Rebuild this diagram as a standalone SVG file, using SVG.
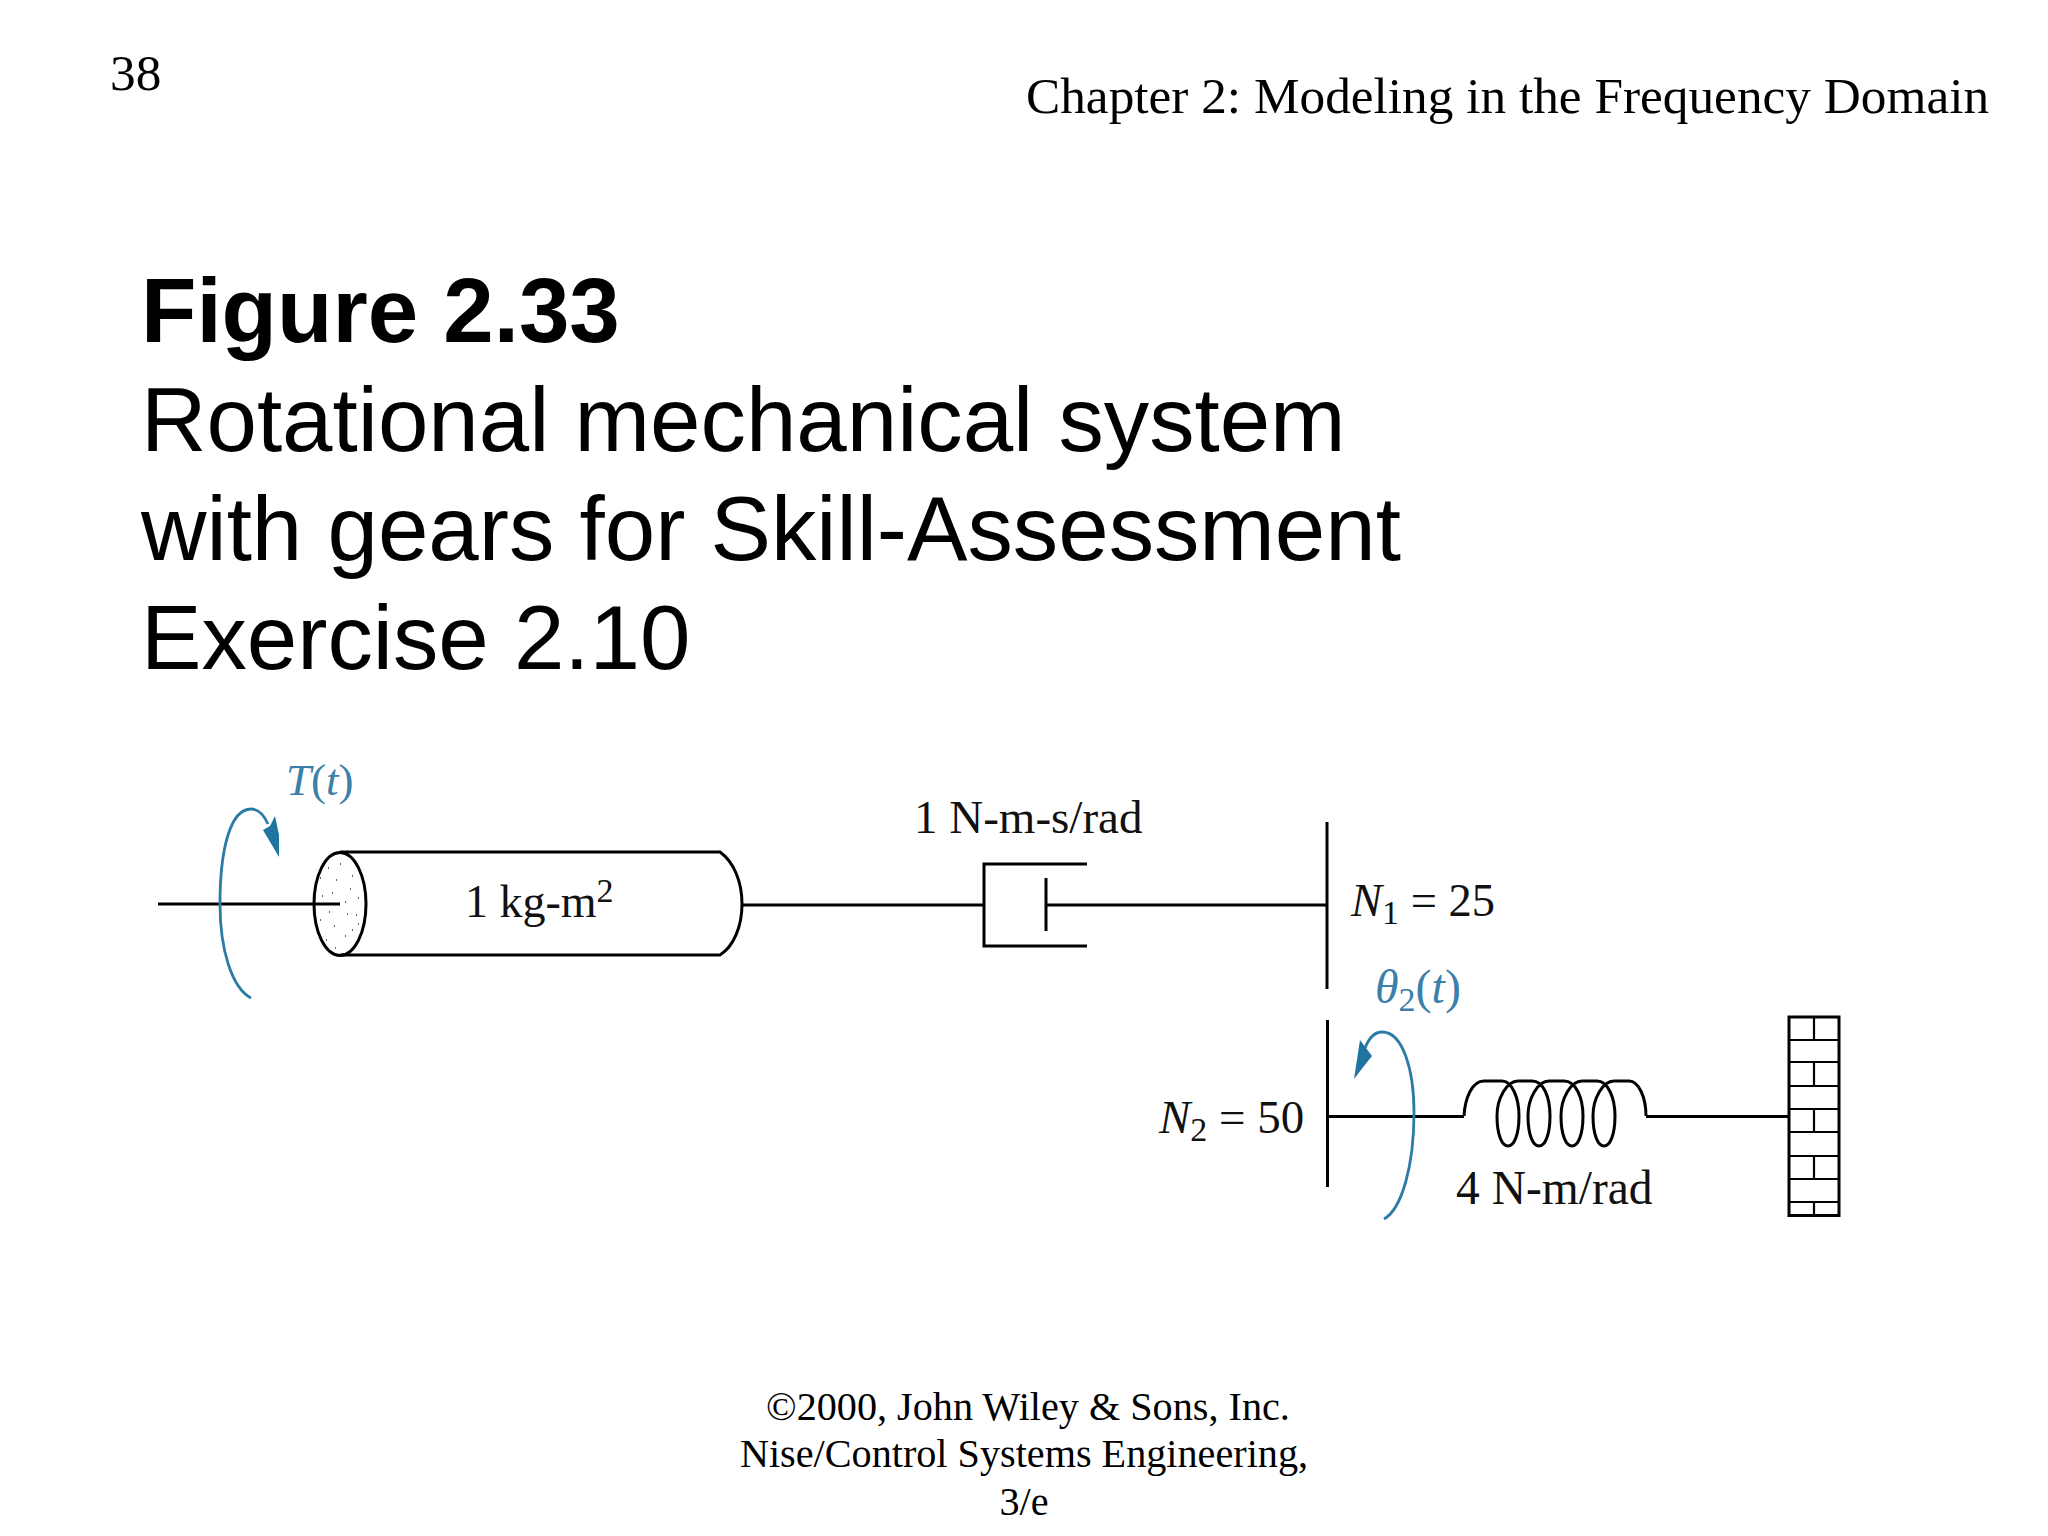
<svg xmlns="http://www.w3.org/2000/svg" width="2048" height="1536" viewBox="0 0 2048 1536">
<style>
.s{font-family:"Liberation Serif","Times New Roman",serif;fill:#000}
.h{font-size:51.300px}
.a{font-family:"Liberation Sans",Arial,sans-serif;font-size:90.700px;fill:#000}
.l{font-size:47px;fill:#111}
.f{font-size:40.200px}
.b{fill:#3b80a8}
.i{font-style:italic}
.k{fill:none;stroke:#000;stroke-width:3}
.t{fill:none;stroke:#000;stroke-width:2.2}
.w{fill:none;stroke:#2b7ba6;stroke-width:2.8}
.p{fill:#1f74a0}
</style>
<rect width="2048" height="1536" fill="#fff"/>
<g id="page-text">
<text class="s h" x="110" y="90">38</text>
<text class="s h" x="1026" y="113">Chapter 2: Modeling in the Frequency Domain</text>
<text class="a" x="141" y="342" font-weight="700">Figure 2.33</text>
<text class="a" x="141" y="451">Rotational mechanical system</text>
<text class="a" x="141" y="560">with gears for Skill-Assessment</text>
<text class="a" x="141" y="669">Exercise 2.10</text>
<text class="s f" x="1028" y="1420" text-anchor="middle">©2000, John Wiley &amp; Sons, Inc.</text>
<text class="s f" x="1024" y="1467" text-anchor="middle">Nise/Control Systems Engineering,</text>
<text class="s f" x="1024" y="1515" text-anchor="middle">3/e</text>
</g>
<g id="connectors">
<path class="k" d="M158 904H340M742 905H984M1046 905H1327M1327 1116.500H1464M1646 1116.500H1789"/>
</g>
<g id="inertia">
<path class="k" d="M340 852H720C734 862 742 882 742 904C742 926 734 946 720 955H340"/>
<ellipse class="k" cx="340" cy="904" rx="26" ry="51.500"/>
<path d="M320 878h1M328 868h1M340 864h1M352 876h1M336 880h1M322 896h1M332 893h1M350 889h1M358 898h1M329 912h1M345 902h1M356 915h1M320 920h1M334 926h1M347 914h1M352 930h1M326 940h1M345 936h1M335 948h1M358 924h1" stroke="#333" stroke-width="1.500" fill="none"/>
<text class="s l" x="465" y="917" style="font-size:46px">1 kg-m<tspan font-size="34" dy="-15">2</tspan></text>
</g>
<g id="torque">
<path class="w" d="M251 998C232 988 220 950 220 904C220 850 230 809 251 809C258 809 264 815 268 824"/>
<path class="p" d="M279 857L263 830L270 826L275 816L279 835Z"/>
<text class="s l b" x="286" y="795" style="font-size:45px"><tspan class="i">T</tspan>(<tspan class="i">t</tspan>)</text>
</g>
<g id="damper">
<path class="k" d="M1087 864H984V946H1087M1046 878V931"/>
<text class="s l" x="914" y="833">1 N-m-s/rad</text>
</g>
<g id="gear-1">
<path class="k" d="M1327 822V989"/>
<text class="s l" x="1351" y="916" style="font-size:46.500px"><tspan class="i">N</tspan><tspan font-size="34" dy="8">1</tspan><tspan dy="-8"> = 25</tspan></text>
</g>
<g id="gear-2">
<path class="k" d="M1327.500 1020V1187"/>
<text class="s l" x="1159" y="1133"><tspan class="i">N</tspan><tspan font-size="34" dy="8">2</tspan><tspan dy="-8"> = 50</tspan></text>
</g>
<g id="displacement">
<path class="w" d="M1384 1219C1402 1209 1414 1165 1414 1113C1414 1070 1403 1032 1382 1032C1375 1032 1369 1038 1365 1048"/>
<path class="p" d="M1354 1079L1360 1040L1366 1048L1372 1056L1364 1066Z"/>
<text class="s l b" x="1375" y="1003" style="font-size:48px"><tspan class="i">θ</tspan><tspan font-size="34" dy="8">2</tspan><tspan dy="-8">(</tspan><tspan class="i">t</tspan>)</text>
</g>
<g id="spring">
<path class="k" d="M1464 1116C1465 1098 1472 1081 1484 1081H1502C1512 1081 1519 1098 1519 1116C1519 1135 1514 1146 1508 1146C1502 1146 1497 1135 1497 1116C1497 1098 1507 1081 1518 1081H1532C1544 1081 1550 1098 1550 1116C1550 1135 1545 1146 1539 1146C1533 1146 1528 1135 1528 1116C1528 1098 1538 1081 1549 1081H1564C1576 1081 1583 1098 1583 1116C1583 1135 1578 1146 1572 1146C1566 1146 1561 1135 1561 1116C1561 1098 1571 1081 1582 1081H1597C1608 1081 1615 1098 1615 1116C1615 1135 1610 1146 1604 1146C1598 1146 1593 1135 1593 1116C1593 1098 1603 1081 1614 1081H1629C1639 1081 1646 1098 1646 1116"/>
<text class="s l" x="1456" y="1204" style="font-size:47.500px">4 N-m/rad</text>
</g>
<g id="wall">
<rect class="k" x="1789" y="1017" width="50" height="198.500"/>
<path class="t" d="M1789 1040H1839M1789 1062H1839M1789 1086H1839M1789 1109H1839M1789 1132H1839M1789 1156H1839M1789 1179H1839M1789 1202H1839M1814 1017V1040M1814 1062V1086M1814 1109V1132M1814 1156V1179M1814 1202V1215"/>
</g>
</svg>
